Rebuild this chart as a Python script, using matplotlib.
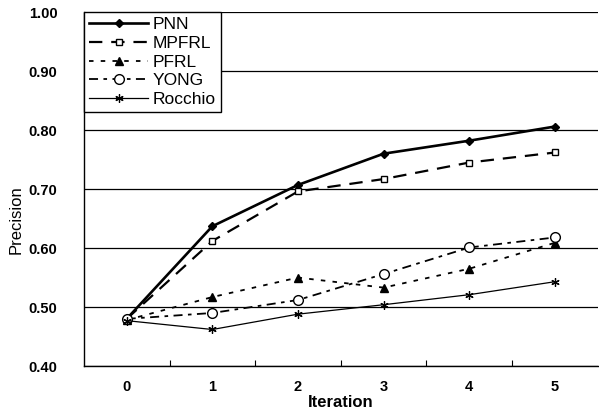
import matplotlib
matplotlib.use('Agg')
import matplotlib.pyplot as plt

plt.rcParams['font.family'] = ['Liberation Sans', 'DejaVu Sans']

iterations = [0, 1, 2, 3, 4, 5]
pnn = [0.480, 0.637, 0.707, 0.760, 0.782, 0.806]
mpfrl = [0.480, 0.612, 0.696, 0.717, 0.745, 0.762]
pfrl = [0.478, 0.517, 0.550, 0.533, 0.565, 0.609]
yong = [0.480, 0.490, 0.512, 0.556, 0.601, 0.618]
rocchio = [0.477, 0.462, 0.488, 0.504, 0.521, 0.543]
yticks = [0.40, 0.50, 0.60, 0.70, 0.80, 0.90, 1.00]

fig = plt.figure(figsize=(5.99, 4.16), dpi=100)
ax = fig.add_axes([0.140, 0.120, 0.858, 0.851])

ax.plot(iterations, pnn, color='black', lw=1.9, ls='-', marker='D', ms=4.5,
        label='PNN')
ax.plot(iterations, mpfrl, color='black', lw=1.6, ls=(0, (6, 4)), marker='s',
        ms=5, mfc='white', mew=1, label='MPFRL')
ax.plot(iterations, pfrl, color='black', lw=1.3, ls=(0, (2.5, 4)), marker='^',
        ms=6, label='PFRL')
ax.plot(iterations, yong, color='black', lw=1.3, ls=(0, (5, 3, 2, 3)), marker='o',
        ms=7, mfc='white', mew=1, label='YONG')
ax.plot(iterations, rocchio, color='black', lw=0.9, ls='-', marker=(6, 2, 0),
        ms=6, mew=0.9, label='Rocchio')

ax.set_xlim(-0.5, 5.5)
ax.set_ylim(0.40, 1.00)
ax.set_yticks(yticks)
ax.set_yticklabels(['%.2f' % v for v in yticks], fontweight='bold', fontsize=10.5)
ax.set_xticks(iterations)
ax.set_xticklabels([str(i) for i in iterations], fontweight='bold', fontsize=10.5)
ax.set_xticks([0.5, 1.5, 2.5, 3.5, 4.5], minor=True)
ax.tick_params(axis='x', which='major', length=0, pad=10)
ax.tick_params(axis='x', which='minor', length=4, direction='in', width=0.8)
ax.tick_params(axis='y', length=0, pad=19)
ax.grid(axis='y', color='black', lw=0.9)
ax.set_axisbelow(True)
for s in ['top', 'right']:
    ax.spines[s].set_visible(False)
ax.spines['left'].set_linewidth(1.0)
ax.spines['bottom'].set_linewidth(1.0)

ax.set_xlabel('Iteration', fontweight='bold', fontsize=12, labelpad=1)
ax.set_ylabel('Precision', fontsize=12)
ax.yaxis.set_label_coords(-0.118, 0.415)

leg = ax.legend(loc='upper left', bbox_to_anchor=(0.0, 1.0), fontsize=12.5,
                handlelength=3.4, labelspacing=0.2, borderpad=0.3,
                handletextpad=0.25, fancybox=False, framealpha=1,
                borderaxespad=0)
leg.get_frame().set_edgecolor('black')
leg.get_frame().set_linewidth(1.0)

fig.savefig('out.png', dpi=100)
